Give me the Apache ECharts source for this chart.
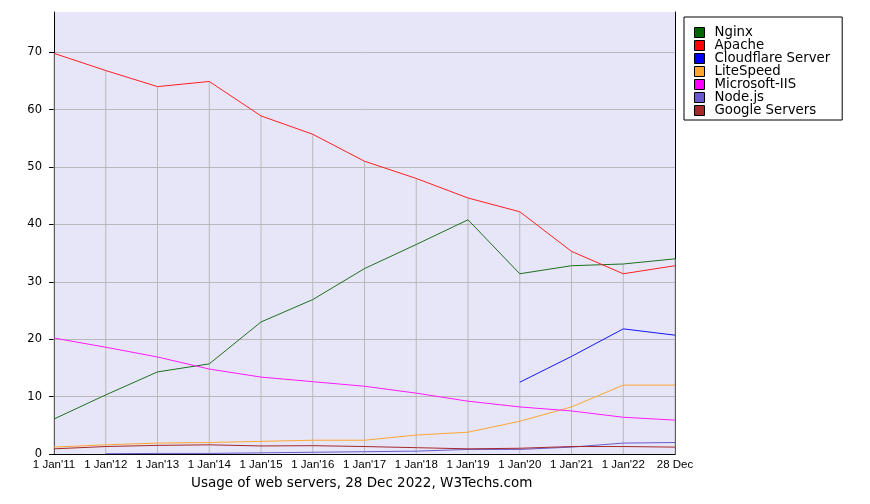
<!DOCTYPE html>
<html>
<head>
<meta charset="utf-8">
<script src="https://cdn.jsdelivr.net/npm/echarts@6/dist/echarts.min.js"></script>
<style>
html,body{margin:0;padding:0;background:#fff;}
#chart{width:870px;height:504px;}
</style>
</head>
<body>
<div id="chart"></div>
<script>
const categories = ["1 Jan'11","1 Jan'12","1 Jan'13","1 Jan'14","1 Jan'15","1 Jan'16","1 Jan'17","1 Jan'18","1 Jan'19","1 Jan'20","1 Jan'21","1 Jan'22","28 Dec"];
const nginx      = [6.1, 10.3, 14.3, 15.7, 23.0, 26.9, 32.3, 36.5, 40.8, 31.4, 32.8, 33.1, 34.0];
const apache     = [69.8, 66.8, 64.0, 64.9, 58.9, 55.7, 51.0, 48.0, 44.6, 42.2, 35.3, 31.4, 32.8];
const cloudflare = [null, null, null, null, null, null, null, null, null, 12.5, 17.0, 21.8, 20.7];
const litespeed  = [1.2, 1.6, 1.9, 2.0, 2.2, 2.4, 2.4, 3.3, 3.8, 5.7, 8.2, 12.0, 12.0];
const iis        = [20.2, 18.6, 16.9, 14.8, 13.4, 12.6, 11.8, 10.6, 9.2, 8.2, 7.5, 6.4, 5.9];
const nodejs     = [null, 0.05, 0.1, 0.1, 0.2, 0.3, 0.4, 0.5, 0.8, 0.8, 1.2, 1.9, 2.0];
const google     = [0.9, 1.3, 1.5, 1.6, 1.4, 1.45, 1.3, 1.1, 0.9, 1.0, 1.3, 1.3, 1.2];
const yTicks = [0, 10, 20, 30, 40, 50, 60, 70];
const title = 'Usage of web servers, 28 Dec 2022, W3Techs.com';

const seriesDefs = [
  {name: 'Nginx', data: nginx, color: '#006400', line: '#1f6f1f'},
  {name: 'Apache', data: apache, color: '#ff0000', line: '#ff2020'},
  {name: 'Cloudflare Server', data: cloudflare, color: '#0000ff', line: '#1515ff'},
  {name: 'LiteSpeed', data: litespeed, color: '#ffa631', line: '#ffa631'},
  {name: 'Microsoft-IIS', data: iis, color: '#ff00ff', line: '#ff1aff'},
  {name: 'Node.js', data: nodejs, color: '#6a5acd', line: '#6a5acd'},
  {name: 'Google Servers', data: google, color: '#a52a2a', line: '#a52a2a'}
];

// vertical grid lines only reach up to the top-most curve
const topLine = categories.map((c, i) => {
  let m = 0;
  seriesDefs.forEach(s => { if (s.data[i] != null && s.data[i] > m) m = s.data[i]; });
  return m;
});

const chart = echarts.init(document.getElementById('chart'), null, {renderer: 'canvas'});
const series = [{
  name: '__vgrid',
  type: 'bar',
  data: topLine,
  barWidth: 1,
  itemStyle: {color: '#b9b9b9'},
  silent: true,
  z: 1,
  legendHoverLink: false
}].concat(seriesDefs.map(s => ({
  name: s.name,
  type: 'line',
  data: s.data,
  showSymbol: false,
  symbol: 'none',
  connectNulls: false,
  lineStyle: {color: s.line, width: 1},
  itemStyle: {color: s.color, borderColor: '#000', borderWidth: 1},
  z: 3
})));

chart.setOption({
  animation: false,
  backgroundColor: '#fff',
  graphic: [{
    type: 'text',
    left: 191, top: 476,
    style: {text: title, font: '13.5px "DejaVu Sans"', fill: '#000'}
  }],
  legend: {
    data: seriesDefs.map(s => s.name),
    orient: 'vertical',
    left: 684, top: 17,
    padding: [9, 12, 3, 10],
    itemWidth: 10, itemHeight: 10, itemGap: 0,
    borderColor: '#000', borderWidth: 1,
    backgroundColor: '#fff',
    icon: 'rect',
    itemStyle: {borderColor: '#000', borderWidth: 1},
    textStyle: {fontFamily: 'DejaVu Sans', fontSize: 13.3, color: '#000', lineHeight: 13, padding: [0, 0, 0, 5]},
    selectedMode: false
  },
  grid: {left: 54, right: 195, top: 12, bottom: 50, backgroundColor: '#e6e6f8', show: true, borderWidth: 0},
  xAxis: {
    type: 'category',
    data: categories,
    boundaryGap: false,
    axisLine: {lineStyle: {color: '#000', width: 1}},
    axisTick: {show: false},
    splitLine: {show: false},
    axisLabel: {fontFamily: "'Liberation Sans Narrow', 'Liberation Sans', Arial", fontSize: 11.5, color: '#000', margin: 5, interval: 0}
  },
  yAxis: [{
    type: 'value',
    min: 0, max: 77,
    axisLine: {show: true, lineStyle: {color: '#000', width: 1}},
    axisTick: {show: true, length: 5, lineStyle: {color: '#000'}, customValues: yTicks},
    splitLine: {show: true, lineStyle: {color: '#b9b9b9', width: 1}},
    axisLabel: {
      fontFamily: 'DejaVu Sans', fontSize: 11.5, color: '#000', margin: 12,
      customValues: yTicks
    }
  }, {
    type: 'value',
    position: 'right',
    min: 0, max: 77,
    axisLine: {show: true, lineStyle: {color: '#000', width: 1}},
    axisTick: {show: false},
    splitLine: {show: false},
    axisLabel: {show: false}
  }],
  series: series
});
</script>
</body>
</html>
